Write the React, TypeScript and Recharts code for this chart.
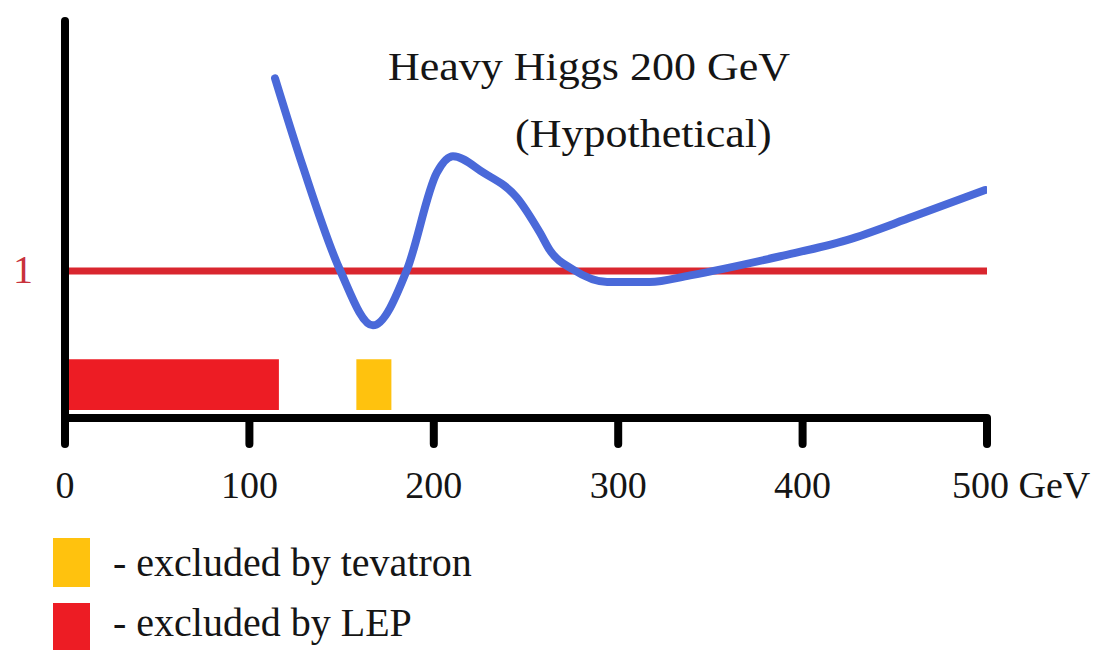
import React from "react";
import { LineChart, Line, XAxis, YAxis, ReferenceLine, ReferenceArea } from "recharts";

// Higgs mass (GeV) and hypothetical signal strength
const massGeV = [113.9, 129, 149, 167, 185.5, 201.7, 210.4, 226.7, 245, 257.6, 263, 275.5, 294, 317, 339, 388, 424, 460, 499];
const signalStrength = [2.31, 1.71, 1.01, 0.63, 1.01, 1.67, 1.78, 1.67, 1.5, 1.26, 1.14, 1.01, 0.925, 0.925, 0.97, 1.1, 1.21, 1.37, 1.55];

const xTicks = [0, 100, 200, 300, 400, 500];
const yTicks = [1];
const thresholdLevel = 1;

// exclusion bands [from, to] in GeV and their vertical extent
const lepExclusion = [0, 116];
const tevatronExclusion = [158, 177];
const bandLow = 0.054;
const bandHigh = 0.4;

const legendLabels = ["- excluded by tevatron", "- excluded by LEP"];
const legendColors = ["#FFC20E", "#ED1C24"];

const titleLine1 = "Heavy Higgs 200 GeV";
const titleLine2 = "(Hypothetical)";

const data = massGeV.map((m, i) => ({ mass: m, signal: signalStrength[i] }));

const FONT = "'Liberation Serif', 'Times New Roman', serif";
const TEXT = "#151515";

const XTick = (props: any) => {
  const { x, y, payload } = props;
  const last = payload.value === 500;
  return (
    <text
      x={last ? x - 35 : x}
      y={y + 52}
      textAnchor={last ? "start" : "middle"}
      fontFamily={FONT}
      fontSize={38}
      fill={TEXT}
    >
      {last ? `${payload.value} GeV` : payload.value}
    </text>
  );
};

const YTick = (props: any) => {
  const { y, payload } = props;
  return (
    <text x={23} y={y + 12} textAnchor="middle" fontFamily={FONT} fontSize={40} fill="#c8323c">
      {payload.value}
    </text>
  );
};

const titleStyle: React.CSSProperties = {
  position: "absolute",
  fontFamily: FONT,
  fontSize: 40,
  lineHeight: "40px",
  color: TEXT,
  whiteSpace: "nowrap",
  transform: "scaleX(1.1)",
  transformOrigin: "left top",
};

export default function App() {
  return (
    <div style={{ position: "absolute", left: 0, top: 0, width: 1093, height: 650, background: "#fff", overflow: "hidden" }}>
      <LineChart width={1093} height={650} data={data} margin={{ top: 21, right: 106, bottom: 152, left: 0 }}>
        <XAxis
          dataKey="mass"
          type="number"
          domain={[0, 500]}
          ticks={xTicks}
          height={80}
          axisLine={{ stroke: "#000", strokeWidth: 8 }}
          tickLine={{ stroke: "#000", strokeWidth: 8, strokeLinecap: "round" }}
          tickSize={26}
          tick={<XTick />}
          allowDataOverflow
        />
        <YAxis
          type="number"
          domain={[0, 2.7]}
          ticks={yTicks}
          width={65}
          axisLine={{ stroke: "#000", strokeWidth: 8, strokeLinecap: "round" }}
          tickLine={false}
          tickSize={0}
          tick={<YTick />}
          allowDataOverflow
        />
        <ReferenceArea
          x1={lepExclusion[0]}
          x2={lepExclusion[1]}
          y1={bandLow}
          y2={bandHigh}
          fill={legendColors[1]}
          fillOpacity={1}
          stroke="none"
          ifOverflow="visible"
        />
        <ReferenceArea
          x1={tevatronExclusion[0]}
          x2={tevatronExclusion[1]}
          y1={bandLow}
          y2={bandHigh}
          fill={legendColors[0]}
          fillOpacity={1}
          stroke="none"
          ifOverflow="visible"
        />
        <ReferenceLine y={thresholdLevel} stroke="#d9262f" strokeWidth={7} />
        <Line
          type="monotone"
          dataKey="signal"
          stroke="#4a69d9"
          strokeWidth={8}
          strokeLinecap="round"
          strokeLinejoin="round"
          dot={false}
          activeDot={false}
          isAnimationActive={false}
        />
      </LineChart>
      <div style={{ ...titleStyle, left: 388, top: 47 }}>{titleLine1}</div>
      <div style={{ ...titleStyle, left: 515, top: 114 }}>{titleLine2}</div>
      {legendLabels.map((label, i) => (
        <React.Fragment key={label}>
          <div
            style={{
              position: "absolute",
              left: 53,
              top: 538 + i * 65,
              width: 37,
              height: 49,
              background: legendColors[i],
            }}
          />
          <div
            style={{
              position: "absolute",
              left: 113,
              top: 543 + i * 60,
              fontFamily: FONT,
              fontSize: 40,
              lineHeight: "40px",
              color: TEXT,
              whiteSpace: "nowrap",
            }}
          >
            {label}
          </div>
        </React.Fragment>
      ))}
    </div>
  );
}
